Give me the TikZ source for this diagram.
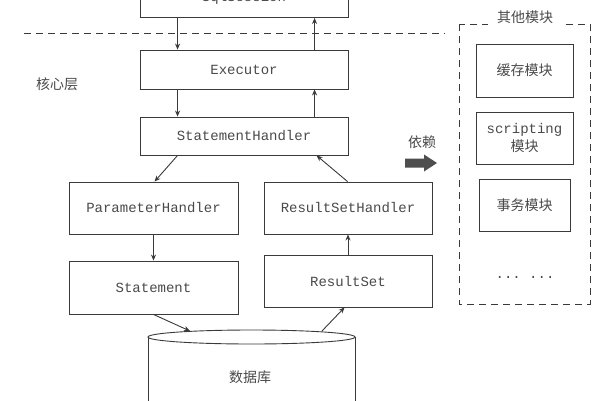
\documentclass[tikz,border=0pt]{standalone}
\usepackage{fontspec}
\setmonofont{Liberation Mono}
\newfontfamily\cjk{Noto Sans CJK SC}
\usetikzlibrary{arrows.meta}
\definecolor{ink}{HTML}{3A3A3A}
\definecolor{txt}{HTML}{4A4A4A}
\tikzset{
  box/.style={draw=ink, line width=0.9pt, inner sep=0pt, text=txt, align=center},
  mono/.style={font=\fontsize{14}{16}\selectfont\ttfamily},
  han/.style={font=\fontsize{14}{18}\selectfont\cjk, text=txt},
  arr/.style={draw=ink, line width=0.9pt, -{Stealth[length=6pt,width=5pt]}},
}
\begin{document}
\begin{tikzpicture}[x=1pt,y=-1pt]
\useasboundingbox (0,0) rectangle (600,400);
\clip (0,0) rectangle (600,400);
\fill[white] (0,0) rectangle (600,400);
% layered boxes
\node[box,mono,minimum width=208pt,minimum height=39pt] (sql) at (244,-2) {SqlSession};
\node[box,mono,minimum width=208pt,minimum height=39pt] (exec) at (244,69.5) {Executor};
\node[box,mono,minimum width=208pt,minimum height=38pt] (sh) at (244,136) {StatementHandler};
\node[box,mono,minimum width=169pt,minimum height=52pt] (ph) at (153.5,208) {ParameterHandler};
\node[box,mono,minimum width=168pt,minimum height=52pt] (rsh) at (348,208) {ResultSetHandler};
\node[box,mono,minimum width=169pt,minimum height=53pt] (st) at (153.5,287.5) {Statement};
\node[box,mono,minimum width=168pt,minimum height=52pt] (rs) at (348,281) {ResultSet};
% dashed separator
\coordinate (dl) at (24,33);
\coordinate (dr) at (445,33);
\draw[ink, line width=0.9pt, dash pattern=on 7pt off 5pt] (dl) -- (dr);
\node[han] (core) at (57,84) {核心层};
% database cylinder
\coordinate (dbc) at (251.5,337);
\draw[ink, line width=0.9pt, fill=white] (148,337) -- (148,410) -- (355,410) -- (355,337);
\draw[ink, line width=0.9pt, fill=white] (dbc) ellipse [x radius=103.5pt, y radius=7pt];
\node[han] (db) at (250,377) {数据库};
\coordinate (dbin) at (190,331);
\coordinate (dbout) at (322,331);
% vertical arrows
\draw[arr] ([xshift=38pt]sql.south west) -- ([xshift=38pt]exec.north west);
\draw[arr] ([xshift=175pt]exec.north west) -- ([xshift=175pt]sql.south west);
\draw[arr] ([xshift=38pt]exec.south west) -- ([xshift=38pt]sh.north west);
\draw[arr] ([xshift=175pt]sh.north west) -- ([xshift=175pt]exec.south west);
\draw[arr] ([xshift=38pt]sh.south west) -- ([xshift=86pt]ph.north west);
\draw[arr] ([xshift=84pt]rsh.north west) -- ([xshift=177pt]sh.south west);
\draw[arr] (ph.south) -- (st.north);
\draw[arr] (rs.north) -- (rsh.south);
\draw[arr] (st.south) -- (dbin);
\draw[arr] (dbout) -- ([xshift=81pt]rs.south west);
% dependency arrow
\node[han] (dep) at (422,142) {依赖};
\fill[ink!90] (405,158.5) -- (424,158.5) -- (424,154.5) -- (437,163) -- (424,171.5) -- (424,167.5) -- (405,167.5) -- cycle;
% other modules
\draw[ink, line width=0.9pt, dash pattern=on 7pt off 5pt] (459,24) rectangle (590,304);
\node[han, fill=white, inner xsep=9pt, inner ysep=3pt] (other) at (525,17) {其他模块};
\node[box,han,minimum width=97pt,minimum height=53pt] (cache) at (524.5,70.5) {缓存模块};
\node[box,minimum width=97pt,minimum height=52pt] (script) at (524.5,138)
  {{\fontsize{14}{16}\selectfont\ttfamily scripting}\\[3pt]{\fontsize{14}{16}\selectfont\cjk 模块}};
\node[box,han,minimum width=91pt,minimum height=52pt] (tx) at (524.5,205) {事务模块};
\node[text=txt, font=\fontsize{14}{16}\selectfont\ttfamily] (dots) at (525,277) {... ...};
\end{tikzpicture}
\end{document}
